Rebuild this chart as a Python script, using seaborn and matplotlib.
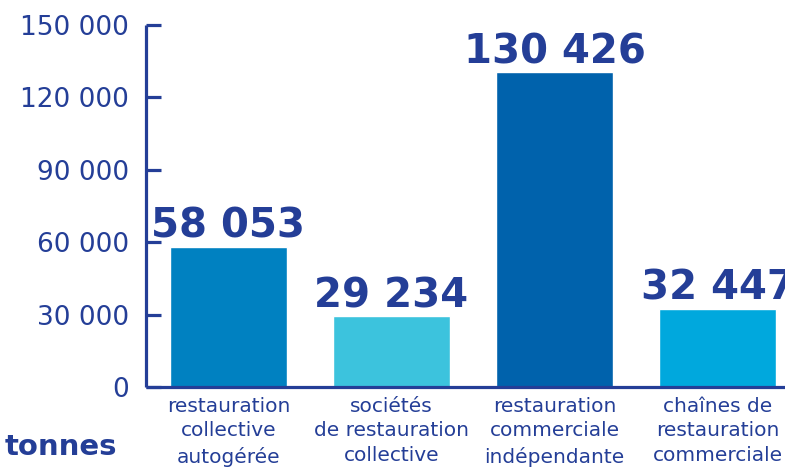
import matplotlib
matplotlib.use("Agg")
import matplotlib.pyplot as plt
import seaborn as sns
import pandas as pd
from matplotlib.ticker import FuncFormatter

categories = [
    "restauration\ncollective\nautogérée",
    "sociétés\nde restauration\ncollective",
    "restauration\ncommerciale\nindépendante",
    "chaînes de\nrestauration\ncommerciale",
]
tonnes = [58053, 29234, 130426, 32447]
bar_colors = ["#0081C1", "#3CC3DD", "#0062AC", "#00A8DD"]
y_ticks = [0, 30000, 60000, 90000, 120000, 150000]

navy = "#243E97"

sns.set_theme(style="white")
plt.rcParams["font.family"] = ["DejaVu Sans"]

df = pd.DataFrame({"cat": categories, "val": tonnes})

fig = plt.figure(figsize=(7.85, 4.68), dpi=100)
ax = fig.add_axes([146 / 785, 1 - 387 / 468, 1 - 146 / 785, (387 - 25) / 468])

sns.barplot(data=df, x="cat", y="val", hue="cat", palette=bar_colors,
            dodge=False, legend=False, width=0.72, saturation=1, ax=ax)

ax.set_ylim(0, 150000)
ax.set_xlim(-0.506, 3.414)
ax.set_yticks(y_ticks)
ax.yaxis.set_major_formatter(FuncFormatter(lambda v, p: f"{int(v):,}".replace(",", " ")))
ax.set_xlabel("")
ax.set_ylabel("")

for side in ("top", "right"):
    ax.spines[side].set_visible(False)
for side in ("left", "bottom"):
    ax.spines[side].set_color(navy)
    ax.spines[side].set_linewidth(2.3)
    ax.spines[side].set_capstyle("butt")

ax.tick_params(axis="y", direction="in", length=11, width=2.3, color=navy,
               labelcolor=navy, labelsize=19, pad=12, left=True)
ax.tick_params(axis="x", length=0, labelcolor=navy, labelsize=14.5, pad=7)
for lbl in ax.get_xticklabels():
    lbl.set_linespacing(1.38)

for container in ax.containers:
    vals = [f"{int(b.get_height()):,}".replace(",", " ") for b in container]
    ax.bar_label(container, labels=vals, padding=0, color=navy,
                 fontsize=29, fontweight="heavy", clip_on=False)

fig.text(5 / 785, 1 - 447 / 468, "tonnes", color=navy, fontsize=21,
         fontweight="heavy", ha="left", va="center")

fig.savefig("out.png", dpi=100)
